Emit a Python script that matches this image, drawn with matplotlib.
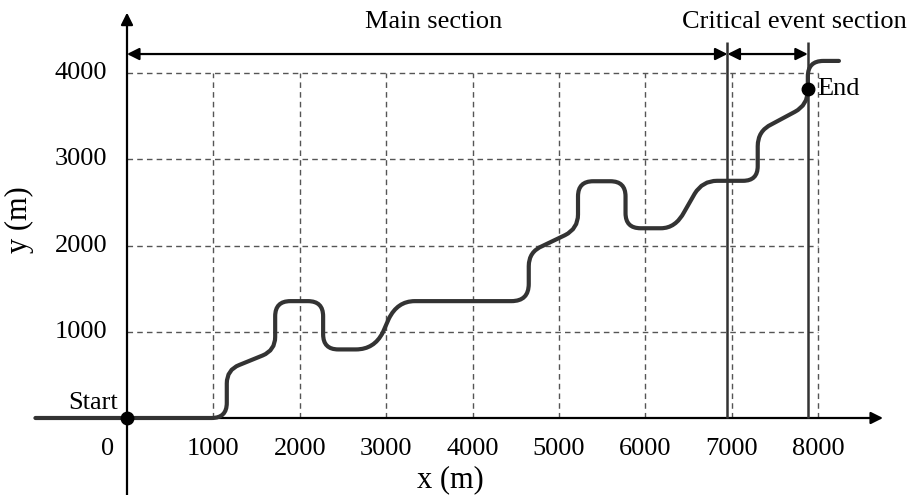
import matplotlib
matplotlib.use('Agg')
from matplotlib import pyplot as plt
from matplotlib.path import Path
from matplotlib.patches import PathPatch

plt.rcParams['font.family'] = ['Liberation Serif', 'DejaVu Serif']

# Сетка
x_ticks = [1000, 2000, 3000, 4000, 5000, 6000, 7000, 8000]
y_ticks = [1000, 2000, 3000, 4000]

# Границы участков
section_edges = [0, 6950, 7880]
section_names = ['Main section', 'Critical event section']

# Точки старта и финиша
start_pt = (0, 0)
end_pt = (7880, 3810)

# Траектория дороги: M - начало, L - прямая, Q - квадратичная кривая (контрольная, конечная)
road_x = [-1060, 980, 1155, 1155, 1155, 1155, 1300, 1570, 1715, 1715, 1715, 1715, 1890,
          2095, 2270, 2270, 2270, 2270, 2445, 2650, 2860, 2960, 3030, 3130, 3330,
          4450, 4650, 4650, 4650, 4650, 4810, 5070, 5220, 5220, 5220, 5220, 5395,
          5595, 5770, 5770, 5770, 5770, 5945, 6180, 6350, 6450, 6570, 6660, 6830,
          7130, 7300, 7300, 7300, 7300, 7460, 7730, 7880, 7880, 7880, 7880, 8060, 8240]
road_y = [0, 0, 0, 175, 400, 560, 615, 725, 785, 940, 1180, 1355, 1355,
          1355, 1355, 1180, 970, 795, 795, 795, 795, 990, 1150, 1355, 1355,
          1355, 1355, 1555, 1760, 1930, 1995, 2120, 2195, 2360, 2570, 2745, 2745,
          2745, 2745, 2570, 2375, 2200, 2200, 2200, 2200, 2390, 2600, 2750, 2750,
          2750, 2750, 2920, 3150, 3330, 3405, 3550, 3630, 3800, 3960, 4140, 4140, 4140]
road_kind = ['M', 'L', 'Q', 'Q', 'L', 'Q', 'Q', 'L', 'Q', 'Q', 'L', 'Q', 'Q',
             'L', 'Q', 'Q', 'L', 'Q', 'Q', 'L', 'Q', 'Q', 'L', 'Q', 'Q',
             'L', 'Q', 'Q', 'L', 'Q', 'Q', 'L', 'Q', 'Q', 'L', 'Q', 'Q',
             'L', 'Q', 'Q', 'L', 'Q', 'Q', 'L', 'Q', 'Q', 'L', 'Q', 'Q',
             'L', 'Q', 'Q', 'L', 'Q', 'Q', 'L', 'Q', 'Q', 'L', 'Q', 'Q', 'L']

fig = plt.figure(figsize=(9.13, 4.95), dpi=100)
ax = fig.add_axes([0, 0, 1, 1])
ax.set_xlim(-127 / 0.0864, 786 / 0.0864)
ax.set_ylim(-77 / 0.08625, 418 / 0.08625)
ax.axis('off')

# Пунктирная сетка
grid_kw = dict(colors='#555555', linewidth=1.0, linestyles=(0, (4, 3)), zorder=1)
ax.vlines(x_ticks, 0, max(y_ticks), **grid_kw)
ax.hlines(y_ticks, 0, max(x_ticks), **grid_kw)

# Оси со стрелками
axis_arrow = dict(arrowstyle='-|>', color='black', lw=1.6, mutation_scale=18, shrinkA=0, shrinkB=0)
ax.annotate('', xy=(8750, 0), xytext=(-930, 0), arrowprops=axis_arrow, zorder=3)
ax.annotate('', xy=(0, 4700), xytext=(0, -900), arrowprops=axis_arrow, zorder=3)

# Дорога
codes_map = {'M': Path.MOVETO, 'L': Path.LINETO, 'Q': Path.CURVE3}
road = Path(list(zip(road_x, road_y)), [codes_map[k] for k in road_kind])
ax.add_patch(PathPatch(road, facecolor='none', edgecolor='#333333', lw=3.0,
                       capstyle='round', joinstyle='round', zorder=4))

# Вертикальные границы участков
ax.vlines(section_edges[1:], 0, 4360, colors='#333333', linewidth=1.8, zorder=5)

# Стрелки участков
sec_arrow = dict(arrowstyle='<|-|>', color='black', lw=1.6, mutation_scale=18, shrinkA=0, shrinkB=0)
sec_y = 4220
for i, name in enumerate(section_names):
    x0, x1 = section_edges[i], section_edges[i + 1]
    ax.annotate('', xy=(x1, sec_y), xytext=(x0, sec_y), arrowprops=sec_arrow, zorder=5)
ax.text((section_edges[0] + section_edges[1]) / 2 + 70, 4590, section_names[0],
        ha='center', va='center', fontsize=19)
ax.text(7720, 4590, section_names[1], ha='center', va='center', fontsize=19)

# Старт и финиш
ax.plot(*start_pt, 'o', color='black', markersize=9, zorder=6)
ax.plot(*end_pt, 'o', color='black', markersize=9, zorder=6)
ax.text(-100, 175, 'Start', ha='right', va='center', fontsize=19)
ax.text(7990, 3820, 'End', ha='left', va='center', fontsize=19)

# Подписи делений
for x in x_ticks:
    ax.text(x, -360, str(x), ha='center', va='center', fontsize=19)
ax.text(-230, -360, '0', ha='center', va='center', fontsize=19)
for y in y_ticks:
    ax.text(-230, y, str(y), ha='right', va='center', fontsize=19)

# Подписи осей
ax.text(3740, -720, 'x (m)', ha='center', va='center', fontsize=22)
ax.text(-1240, 2300, 'y (m)', ha='center', va='center', fontsize=22, rotation=90)

fig.savefig('out.png', dpi=100)
